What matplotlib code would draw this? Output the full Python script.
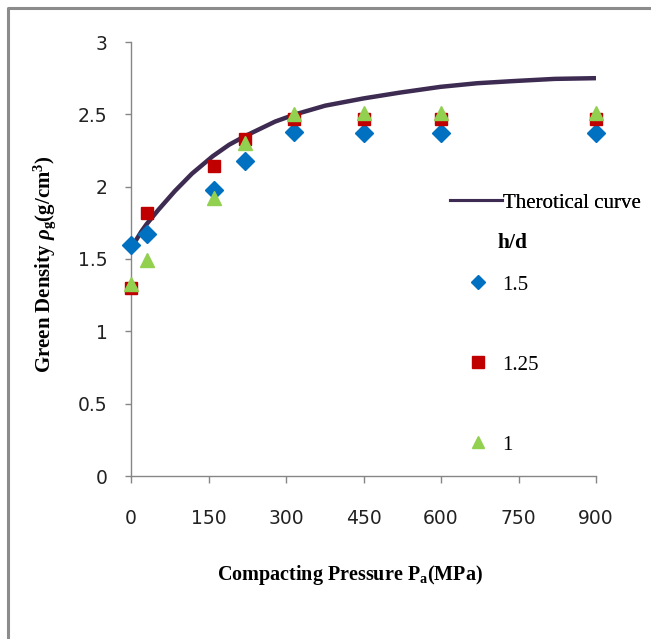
import matplotlib
matplotlib.use("Agg")
import matplotlib.pyplot as plt
from matplotlib.lines import Line2D

# ---- data ----
pressure = [0, 30, 160, 220, 315, 450, 600, 900]
hd_15 = [1.60, 1.67, 1.98, 2.18, 2.38, 2.37, 2.37, 2.37]
hd_125 = [1.30, 1.82, 2.14, 2.33, 2.47, 2.47, 2.47, 2.47]
hd_1 = [1.33, 1.49, 1.92, 2.30, 2.50, 2.51, 2.51, 2.51]

curve_x = [8, 20, 30, 53, 85, 118, 158, 190, 221, 279, 318, 376, 450, 520, 599, 670, 741, 820, 900]
curve_y = [1.62, 1.69, 1.74, 1.84, 1.97, 2.09, 2.21, 2.29, 2.35, 2.45, 2.50, 2.56, 2.61, 2.65, 2.69, 2.715, 2.73, 2.745, 2.75]

xticks = [0, 150, 300, 450, 600, 750, 900]
yticks = [0, 0.5, 1, 1.5, 2, 2.5, 3]
ytick_labels = ["0", "0.5", "1", "1.5", "2", "2.5", "3"]
legend_labels = ['1.5', '1.25', '1']

plt.rcParams['mathtext.fontset'] = 'custom'
plt.rcParams['mathtext.rm'] = 'Liberation Serif:bold'
plt.rcParams['mathtext.it'] = 'Liberation Serif:italic:bold'
plt.rcParams['mathtext.bf'] = 'Liberation Serif:bold'

W, H = 651, 639
fig = plt.figure(figsize=(W / 100, H / 100), dpi=100)
ax = fig.add_axes([131 / W, (H - 476) / H, (596 - 131) / W, (476 - 42) / H])

c_blue = '#0070C0'
c_red = '#C00000'
c_green = '#92D050'
c_line = '#3D2B52'

ax.plot(curve_x, curve_y, color=c_line, lw=3.2, solid_capstyle='butt', solid_joinstyle='round', zorder=2)
ax.plot(pressure, hd_15, linestyle='none', marker='D', ms=9.5, color=c_blue, mec=c_blue, zorder=3, clip_on=False)
ax.plot(pressure, hd_125, linestyle='none', marker='s', ms=8.5, color=c_red, mec=c_red, zorder=3, clip_on=False)
ax.plot(pressure, hd_1, linestyle='none', marker='^', ms=10, color=c_green, mec=c_green, zorder=4, clip_on=False)

ax.set_xlim(0, 900)
ax.set_ylim(0, 3)
ax.set_xticks(xticks)
ax.set_yticks(yticks)
ax.set_yticklabels(ytick_labels)
for s in ['top', 'right']:
    ax.spines[s].set_visible(False)
for s in ['left', 'bottom']:
    ax.spines[s].set_color('#868686')
    ax.spines[s].set_linewidth(1.0)
ax.tick_params(axis='x', direction='out', length=5, width=1, color='#868686', pad=19)
ax.tick_params(axis='y', direction='out', length=4, width=1, color='#868686', pad=13)
for lab in ax.get_xticklabels() + ax.get_yticklabels():
    lab.set_fontfamily(['DejaVu Sans'])
    lab.set_fontsize(13.5)
    lab.set_color('#222222')

fig.text(350 / W, 1 - 575 / H, r'Compacting Pressure P$_\mathrm{a}$(MPa)', ha='center', va='center',
         family='Liberation Serif', fontsize=14.5, fontweight='bold')
fig.text(45 / W, 1 - 264 / H, r'Green Density $\rho_\mathrm{g}$(g/cm$^\mathrm{3}$)', ha='center', va='center',
         rotation=90, family='Liberation Serif', fontsize=15, fontweight='bold')

# legend
h_line = Line2D([], [], color=c_line, lw=2.2)
leg1 = fig.legend([h_line], ['Therotical curve'], loc='center left',
                  bbox_to_anchor=(450 / W, 1 - 203 / H), frameon=False,
                  prop=dict(family='Liberation Serif', size=15), handlelength=2.5,
                  handletextpad=0.05, borderpad=0, borderaxespad=0)
fig.add_artist(leg1)
fig.text(497 / W, 1 - 243 / H, 'h/d', ha='left', va='center',
         family='Liberation Serif', fontsize=15.5, fontweight='bold')
h_d = Line2D([], [], linestyle='none', marker='D', ms=7.5, color=c_blue)
h_s = Line2D([], [], linestyle='none', marker='s', ms=8.5, color=c_red)
h_t = Line2D([], [], linestyle='none', marker='^', ms=9, color=c_green)
leg2 = fig.legend([h_d, h_s, h_t], legend_labels, loc='upper left',
                  bbox_to_anchor=(464 / W, 1 - 275 / H), frameon=False,
                  prop=dict(family='Liberation Serif', size=15),
                  labelspacing=2.9, handlelength=1.3, handletextpad=0.55,
                  borderpad=0, borderaxespad=0)

# outer border (top and left)
fig.add_artist(Line2D([8 / W, 8 / W, 1.0], [0.0, 1 - 8 / H, 1 - 8 / H], transform=fig.transFigure,
                      color='#8C8C8C', lw=2.2))

fig.savefig('out.png', dpi=100)
